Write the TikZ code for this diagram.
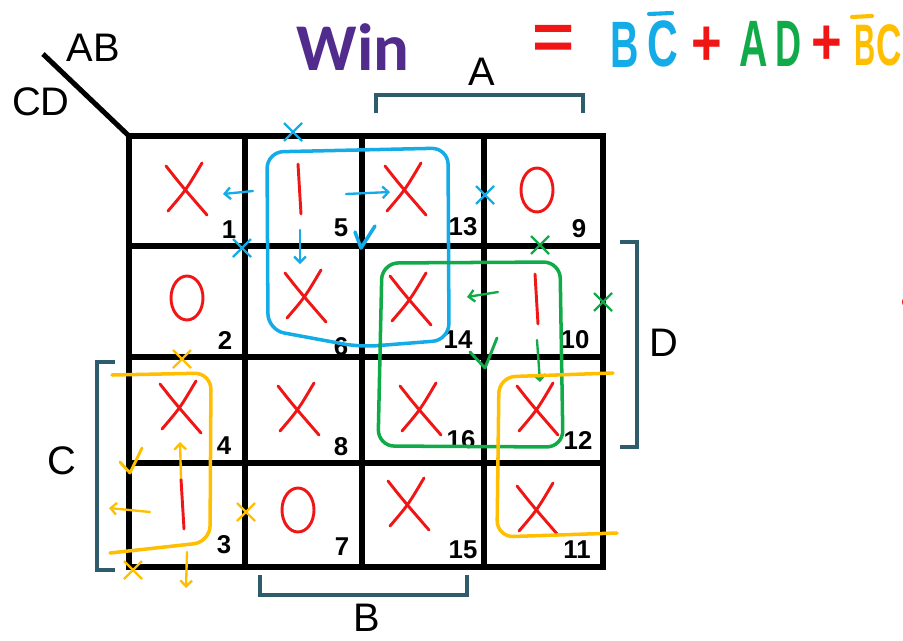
\documentclass[tikz,border=0pt]{standalone}
\usepackage{fontspec}
\setmainfont{Liberation Sans}
\newfontfamily\winfont{Carlito}
\usetikzlibrary{arrows.meta}

\definecolor{cervena}{RGB}{240,22,22}
\definecolor{modra}{RGB}{20,172,232}
\definecolor{zelena}{RGB}{16,170,72}
\definecolor{oranzova}{RGB}{255,190,0}
\definecolor{fialova}{RGB}{82,44,140}
\definecolor{zavorkova}{RGB}{46,92,108}

\begin{document}
\begin{tikzpicture}[x=0.03cm, y=-0.03cm,
        mrizka/.style={line width=4.3pt},
        zavorka/.style={draw=zavorkova, line width=2.8pt},
        znak/.style={draw=cervena, line width=2.5pt, line cap=round},
        smycka/.style={line width=3pt, line cap=round, line join=round, rounded corners=14},
        sipka/.style={line width=2pt, line cap=round, -{Straight Barb[length=5pt,width=10pt]}},
        popis/.style={inner sep=0pt, font=\fontsize{34}{34}\selectfont},
        cislo/.style={inner sep=0pt, font=\bfseries\fontsize{22}{22}\selectfont},
        rovnice/.style={inner sep=0pt, font=\bfseries\fontsize{56}{56}\selectfont}]
        \useasboundingbox (0,0) rectangle (903,640);

        % nadpis a rovnice
        \node[inner sep=0pt, text=fialova, font=\winfont\bfseries\fontsize{57}{57}\selectfont] (win) at (353,47) {Win};
        \node[rovnice, text=cervena] (rovnase) at (554,42) {\scalebox{1.1}[1]{=}};
        \node[rovnice, text=modra] (b1) at (625,45) {\scalebox{0.6}[1]{B}};
        \node[rovnice, text=modra] (c1) at (663,44) {\scalebox{0.65}[1]{C}};
        \node[rovnice, text=cervena] (plus1) at (707,46) {\scalebox{0.8}[1]{+}};
        \node[rovnice, text=zelena] (a2) at (754,44) {\scalebox{0.6}[1]{A}};
        \node[rovnice, text=zelena] (d2) at (789,44) {\scalebox{0.55}[1]{D}};
        \node[rovnice, text=cervena] (plus2) at (827,45) {\scalebox{0.8}[1]{+}};
        \node[rovnice, text=oranzova, font=\bfseries\fontsize{50}{50}\selectfont] (b3) at (865,45) {\scalebox{0.5}[1]{B}};
        \node[rovnice, text=oranzova, font=\bfseries\fontsize{50}{50}\selectfont] (c3) at (889,45) {\scalebox{0.6}[1]{C}};
        \draw[modra, line width=3.5pt, line cap=round] (649,14) -- (672,13);
        \draw[oranzova, line width=3.5pt, line cap=round] (852,17) -- (872,16);

        % mřížka
        \draw[mrizka] (129,136) rectangle (603,567);
        \foreach \x in {245,362,484}
            \draw[mrizka] (\x,136) -- (\x,567);
        \foreach \y in {246,357,463}
            \draw[mrizka] (129,\y) -- (603,\y);
        \draw[mrizka] (43,54) -- (129,136);
        \node[popis] (ab) at (93,48) {AB};
        \node[popis] (cd) at (41,102) {CD};

        % závorky
        \draw[zavorka] (376,113) -- (376,95) -- (583,95) -- (583,113);
        \draw[zavorka] (260,575) -- (260,595) -- (467,595) -- (467,575);
        \draw[zavorka] (115,362) -- (97,362) -- (97,570) -- (115,570);
        \draw[zavorka] (620,242) -- (637,242) -- (637,447) -- (620,447);
        \node[popis] (la) at (482,72) {A};
        \node[popis] (lb) at (367,618) {B};
        \node[popis] (lc) at (62,461) {C};
        \node[popis] (ld) at (664,343) {D};

        % hodnoty v políčkách
        \foreach \x/\y in {186/190, 405/190, 305/297, 410/300, 180/408, 298/410,
                420/410, 537/410, 408/505, 537/510}
            \draw[znak] (\x-20,\y-24) .. controls (\x-5,\y-5) .. (\x+21,\y+25)
                (\x+16,\y-27) .. controls (\x,\y) .. (\x-18,\y+21);
        \foreach \x/\y in {300/190, 537/300, 183/505}
            \draw[znak] (\x-2,\y-26) -- (\x+1,\y+24);
        \foreach \x/\y in {537/190, 187/298, 298/510}
            \draw[znak] (\x,\y) ellipse (16 and 22);

        % čísla políček
        \foreach \n/\x/\y in {1/229/230, 5/341/228, 13/463/227, 9/579/229,
                2/225/340, 6/341/347, 14/458/340, 10/575/340,
                4/224/446, 8/341/447, 16/461/440, 12/578/440,
                3/224/545, 7/342/547, 15/463/550, 11/577/550}
            \node[cislo] (n\n) at (\x,\y) {\n};

        % modrá smyčka
        \draw[modra, smycka] (267,152) -- (448,148) -- (449,340) -- (360,347) -- (268,330) -- cycle;
        \foreach \x/\y in {293/132, 242/248, 485/195}
            \draw[modra, line width=2pt] (\x-9,\y-9) -- (\x+9,\y+9) (\x-9,\y+9) -- (\x+9,\y-9);
        \draw[modra, sipka] (253,191) -- (223,194);
        \draw[modra, sipka] (300,230) -- (300,264);
        \draw[modra, sipka] (346,194) -- (390,192);
        \draw[modra, line width=3pt, line cap=round, line join=round] (355,232) -- (361,248) -- (375,226);

        % zelená smyčka
        \draw[zelena, smycka] (382,263) -- (560,262) -- (563,447) -- (378,446) -- cycle;
        \foreach \x/\y in {540/245, 603/302}
            \draw[zelena, line width=2pt] (\x-9,\y-9) -- (\x+9,\y+9) (\x-9,\y+9) -- (\x+9,\y-9);
        \draw[zelena, sipka] (498,292) -- (467,297);
        \draw[zelena, sipka] (537,340) -- (540,382);
        \draw[zelena, line width=2.5pt, line cap=round, line join=round] (470,352) -- (485,368) -- (497,338);

        % oranžové smyčky
        \draw[oranzova, smycka] (112,375) -- (211,373) -- (210,542) -- (110,553);
        \draw[oranzova, smycka] (613,373) -- (499,377) -- (497,537) -- (617,533);
        \foreach \x/\y in {182/359, 246/512, 133/570}
            \draw[oranzova, line width=2pt] (\x-9,\y-9) -- (\x+9,\y+9) (\x-9,\y+9) -- (\x+9,\y-9);
        \draw[oranzova, sipka] (181,478) -- (180,442);
        \draw[oranzova, sipka] (150,512) -- (109,508);
        \draw[oranzova, sipka] (187,552) -- (186,588);
        \draw[oranzova, line width=2.5pt, line cap=round, line join=round] (120,462) -- (130,473) -- (142,448);

        \fill[cervena] (908,302) circle (6);
    \end{tikzpicture}
\end{document}
